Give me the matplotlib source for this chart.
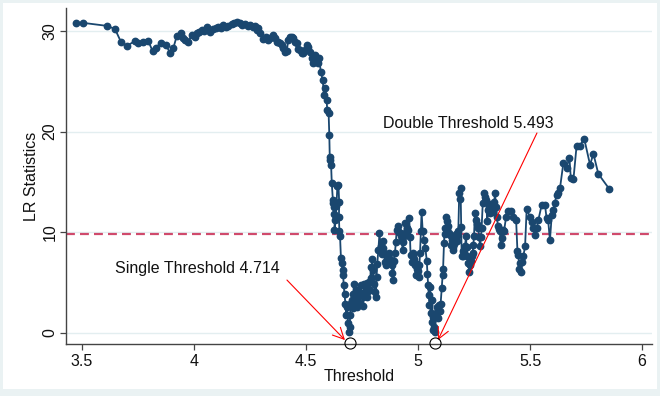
import matplotlib
matplotlib.use('Agg')
import matplotlib.pyplot as plt
from matplotlib.patches import Rectangle

plt.rcParams['font.family'] = ['Liberation Sans', 'DejaVu Sans']

# threshold grid and LR statistic
thr = [3.472, 3.503, 3.610, 3.647, 3.674, 3.700, 3.737, 3.751, 3.774, 3.796,
       3.815, 3.829, 3.851, 3.875, 3.893, 3.908, 3.923, 3.940, 3.952, 3.962,
       3.975, 3.990, 4.003, 4.012, 4.022, 4.034, 4.045, 4.057, 4.071, 4.086,
       4.097, 4.108, 4.120, 4.131, 4.142, 4.153, 4.168, 4.180, 4.190, 4.205,
       4.216, 4.228, 4.240, 4.250, 4.262, 4.272, 4.280, 4.287, 4.295, 4.309,
       4.320, 4.332, 4.340, 4.351, 4.362, 4.369, 4.376, 4.384, 4.391, 4.399,
       4.406, 4.414, 4.421, 4.429, 4.436, 4.441, 4.451, 4.458, 4.466, 4.473,
       4.481, 4.488, 4.496, 4.506, 4.511, 4.518, 4.525, 4.533, 4.540, 4.548,
       4.555, 4.559, 4.566, 4.575, 4.580, 4.585, 4.592, 4.595, 4.601, 4.604,
       4.606, 4.608, 4.612, 4.615, 4.620, 4.622, 4.624, 4.626, 4.628, 4.627,
       4.632, 4.636, 4.640, 4.645, 4.648, 4.647, 4.649, 4.652, 4.656, 4.660,
       4.663, 4.666, 4.668, 4.672, 4.676, 4.680, 4.684, 4.688, 4.692, 4.695,
       4.697, 4.700, 4.704, 4.708, 4.711, 4.714, 4.718, 4.723, 4.726, 4.729,
       4.733, 4.738, 4.741, 4.744, 4.748, 4.753, 4.756, 4.759, 4.763, 4.768,
       4.771, 4.774, 4.778, 4.783, 4.786, 4.789, 4.792, 4.795, 4.800, 4.804,
       4.808, 4.812, 4.815, 4.818, 4.823, 4.828, 4.833, 4.838, 4.842, 4.845,
       4.848, 4.852, 4.857, 4.863, 4.868, 4.872, 4.877, 4.882, 4.886, 4.890,
       4.893, 4.897, 4.901, 4.905, 4.912, 4.916, 4.920, 4.924, 4.927, 4.932,
       4.935, 4.938, 4.942, 4.946, 4.950, 4.957, 4.961, 4.964, 4.967, 4.972,
       4.976, 4.979, 4.983, 4.987, 4.991, 4.994, 4.997, 5.000, 5.003, 5.006,
       5.009, 5.013, 5.016, 5.021, 5.027, 5.033, 5.039, 5.042, 5.045, 5.048,
       5.051, 5.054, 5.056, 5.061, 5.063, 5.066, 5.068, 5.071, 5.076, 5.080,
       5.083, 5.086, 5.090, 5.095, 5.098, 5.101, 5.106, 5.110, 5.112, 5.116,
       5.119, 5.122, 5.125, 5.128, 5.131, 5.135, 5.139, 5.143, 5.147, 5.150,
       5.154, 5.157, 5.161, 5.165, 5.168, 5.172, 5.176, 5.180, 5.184, 5.187,
       5.190, 5.193, 5.195, 5.199, 5.202, 5.206, 5.210, 5.214, 5.217, 5.220,
       5.224, 5.229, 5.232, 5.235, 5.240, 5.244, 5.247, 5.250, 5.254, 5.259,
       5.264, 5.269, 5.273, 5.277, 5.281, 5.284, 5.289, 5.295, 5.300, 5.304,
       5.309, 5.314, 5.318, 5.321, 5.325, 5.329, 5.333, 5.336, 5.340, 5.344,
       5.348, 5.351, 5.358, 5.362, 5.366, 5.369, 5.374, 5.378, 5.384, 5.393,
       5.403, 5.414, 5.426, 5.438, 5.444, 5.448, 5.453, 5.456, 5.459, 5.463,
       5.470, 5.478, 5.485, 5.500, 5.508, 5.515, 5.522, 5.530, 5.537, 5.552,
       5.567, 5.574, 5.581, 5.589, 5.597, 5.603, 5.610, 5.619, 5.625, 5.634,
       5.649, 5.663, 5.676, 5.682, 5.694, 5.708, 5.723, 5.742, 5.768, 5.783,
       5.805, 5.854]

lr = [30.8, 30.8, 30.5, 30.2, 28.9, 28.5, 29.0, 28.8, 28.9, 29.0,
      28.0, 28.3, 28.8, 28.6, 27.8, 28.3, 29.5, 29.8, 29.3, 29.1,
      28.9, 29.6, 29.4, 29.8, 29.9, 30.1, 30.0, 30.4, 29.9, 30.2,
      30.3, 30.4, 30.3, 30.6, 30.4, 30.5, 30.7, 30.8, 30.9, 30.8,
      30.6, 30.7, 30.5, 30.6, 30.4, 30.5, 30.1, 30.3, 29.8, 29.2,
      29.4, 29.1, 29.3, 29.6, 29.3, 28.9, 28.9, 28.8, 28.6, 28.3,
      27.9, 28.0, 29.1, 29.4, 29.4, 29.3, 28.9, 28.8, 28.2, 28.1,
      27.8, 27.8, 28.1, 28.6, 28.4, 27.9, 27.3, 26.8, 27.6, 27.1,
      26.8, 27.3, 25.9, 25.1, 23.6, 24.3, 23.1, 22.1, 21.8, 19.7,
      17.5, 17.2, 16.7, 14.9, 13.2, 12.9, 12.5, 11.8, 11.2, 10.2,
      11.5, 12.6, 14.6, 14.7, 13.0, 11.5, 10.1, 9.6, 7.4, 7.0,
      6.3, 5.8, 4.8, 3.9, 2.9, 1.8, 2.6, 1.0, 0.1, 0.6,
      1.8, 3.0, 3.3, 2.5, 3.9, 4.9, 3.2, 3.6, 2.6, 4.3,
      3.1, 3.8, 2.9, 4.8, 4.0, 3.6, 2.7, 4.9, 3.9, 4.4,
      5.0, 3.6, 4.2, 5.1, 4.3, 6.6, 5.5, 7.3, 6.3, 4.9,
      4.1, 3.6, 5.6, 6.9, 8.2, 9.9, 8.6, 7.8, 9.1, 8.4,
      7.9, 7.1, 6.8, 7.6, 7.0, 7.9, 7.3, 6.8, 6.0, 5.3,
      7.2, 7.9, 9.0, 10.2, 10.6, 10.0, 9.9, 9.6, 9.2, 8.2,
      9.0, 9.6, 10.9, 10.0, 10.4, 10.2, 11.4, 9.5, 7.7, 7.1,
      7.6, 7.9, 7.3, 6.8, 5.8, 6.4, 6.9, 6.2, 5.6, 6.8,
      7.9, 10.1, 12.0, 10.1, 9.2, 8.4, 7.2, 5.9, 4.8, 3.8,
      2.8, 4.6, 2.0, 1.1, 3.3, 1.6, 0.3, 0.6, 0.1, 2.0,
      1.6, 2.6, 1.5, 2.8, 2.2, 2.9, 4.5, 5.8, 6.4, 8.9,
      10.4, 9.8, 11.5, 11.1, 10.3, 10.6, 9.9, 9.7, 8.7, 9.2,
      8.5, 8.2, 8.8, 9.1, 9.8, 9.6, 9.1, 10.1, 13.9, 13.3,
      14.4, 10.5, 7.6, 8.1, 7.6, 8.0, 8.6, 9.6, 8.5, 7.6,
      7.0, 6.1, 6.8, 7.2, 7.6, 7.9, 8.7, 9.6, 11.9, 11.2,
      10.8, 10.4, 9.5, 8.6, 9.5, 10.4, 12.9, 13.9, 13.5, 13.2,
      11.1, 12.2, 12.8, 11.9, 12.5, 12.7, 12.0, 12.1, 13.0, 13.9,
      12.5, 11.5, 10.6, 10.3, 10.1, 8.7, 9.4, 10.2, 10.1, 11.5,
      12.1, 12.1, 11.5, 11.2, 8.1, 7.7, 6.4, 7.0, 6.1, 7.1,
      7.6, 8.6, 12.3, 11.5, 11.0, 10.4, 9.7, 10.4, 11.2, 12.7,
      12.7, 11.4, 11.2, 9.2, 11.7, 12.2, 12.9, 13.7, 13.9, 14.4,
      16.9, 16.4, 17.4, 15.4, 15.3, 18.6, 18.6, 19.3, 16.7, 17.8,
      15.8, 14.3]

crit_value = 9.83
circle_x = [4.696, 5.076]
xticks = [3.5, 4, 4.5, 5, 5.5, 6]
yticks = [0, 10, 20, 30]

fig = plt.figure(figsize=(6.6, 3.96), dpi=100)
fig.patch.set_facecolor('#EAF2F3')
fig.patches.append(Rectangle((3 / 660, 7 / 396), 654 / 660, 386 / 396,
                             transform=fig.transFigure, facecolor='white',
                             edgecolor='none', zorder=-10))

ax = fig.add_axes([66 / 660, 52 / 396, 586 / 660, 336 / 396])
ax.set_zorder(1)
ax.set_facecolor('white')
ax.set_xlim(3.4286, 6.0446)
ax.set_ylim(-1.09, 32.27)

ax.set_yticks(yticks)
ax.set_xticks(xticks)
ax.set_xticklabels(['3.5', '4', '4.5', '5', '5.5', '6'])
ax.grid(axis='y', color='#E3EEF0', lw=1.0, zorder=0)
ax.set_axisbelow(True)

ax.axhline(crit_value, color='#D04A6C', lw=1.6, dashes=(4, 2.3), zorder=1)

ax.plot(thr, lr, color='#1A476F', lw=1.3, marker='o', ms=4.6,
        mfc='#1A476F', mec='#1A476F', zorder=3)

ax.plot(circle_x, [-1.0] * len(circle_x), 'o', mfc='none', mec='black',
        ms=8, mew=0.8, clip_on=False, zorder=4)

ax.annotate('', xy=(4.674, -0.7), xytext=(4.415, 5.26),
            arrowprops=dict(arrowstyle='->', color='red', lw=0.8,
                            mutation_scale=20, shrinkA=0, shrinkB=0))
ax.text(3.647, 6.45, 'Single Threshold 4.714', va='center', ha='left',
        fontsize=11.5, color='#111111')
ax.annotate('', xy=(5.089, -0.7), xytext=(5.531, 19.86),
            arrowprops=dict(arrowstyle='->', color='red', lw=0.8,
                            mutation_scale=20, shrinkA=0, shrinkB=0))
ax.text(4.844, 20.85, 'Double Threshold 5.493', va='center', ha='left',
        fontsize=11.5, color='#111111')

for s in ['top', 'right']:
    ax.spines[s].set_visible(False)
for s in ['left', 'bottom']:
    ax.spines[s].set_color('#444444')
    ax.spines[s].set_linewidth(1.0)

ax.tick_params(direction='out', length=4, width=0.9, color='#444444',
               labelsize=11.5, labelcolor='#111111')
ax.tick_params(axis='y', pad=2)
for lab in ax.get_yticklabels():
    lab.set_rotation(90)
    lab.set_va('center')

ax.set_xlabel('Threshold', fontsize=11.5, color='#111111', labelpad=0)
ax.set_ylabel('LR Statistics', fontsize=11.5, color='#111111', labelpad=3)

fig.savefig('out.png', dpi=100, facecolor=fig.get_facecolor())
